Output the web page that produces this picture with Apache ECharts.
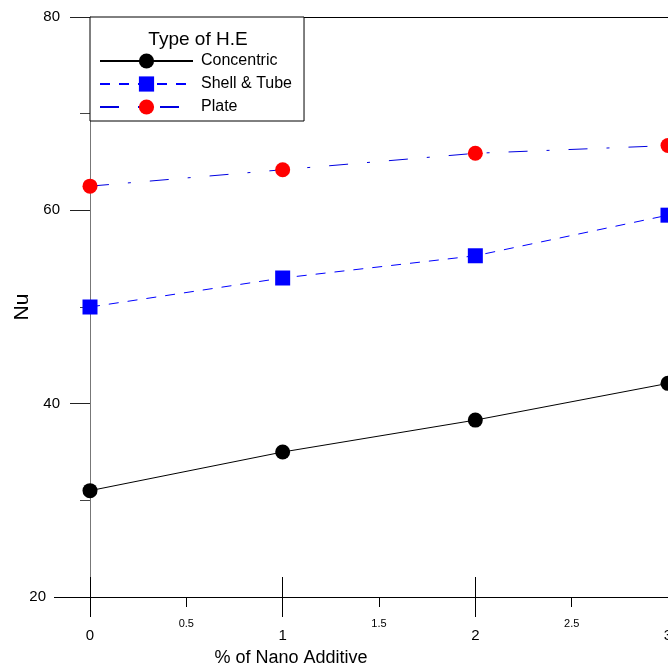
<!DOCTYPE html>
<html>
<head>
<meta charset="utf-8">
<script src="https://cdn.jsdelivr.net/npm/echarts@6/dist/echarts.min.js"></script>
<style>
  html, body { margin: 0; padding: 0; background: #fff; }
  #chart { width: 668px; height: 666px; }
</style>
</head>
<body>
<div id="chart"></div>
<script>
// % of nano additive
var xValues = [0, 1, 2, 3];
// Nu for each heat exchanger type
var concentric = [31, 35, 38.3, 42.1];
var shellTube = [50, 53, 55.3, 59.5];
var plate = [62.5, 64.2, 65.9, 66.7];

var FONT = 'Liberation Sans, Arial, sans-serif';

function pairs(ys) {
	return xValues.map(function (x, i) { return [x, ys[i]]; });
}

var chart = echarts.init(document.getElementById('chart'));

var hiddenAxis = {
	min: 0, max: 3, type: 'value',
	splitLine: { show: false }
};

chart.setOption({
	animation: false,
	backgroundColor: '#fff',
	textStyle: { fontFamily: FONT },
	grid: { left: 90, right: 0, top: 17, bottom: 69, containLabel: false, outerBoundsMode: 'none' },
	legend: {
		orient: 'vertical',
		left: 90, top: 17,
		padding: [36, 12, 6, 9],
		itemWidth: 93, itemHeight: 19, itemGap: 7,
		borderColor: '#000', borderWidth: 1,
		backgroundColor: '#fff',
		textStyle: { fontFamily: FONT, fontSize: 16, color: '#000', padding: [0, 0, 0, 3] },
		data: ['Concentric', 'Shell & Tube', 'Plate']
	},
	title: {
		text: 'Type of H.E',
		left: 193, top: 25, textAlign: 'center',
		textStyle: { fontFamily: FONT, fontSize: 19, fontWeight: 'normal', color: '#000' }
	},
	xAxis: [
		Object.assign({}, hiddenAxis, {
			interval: 1,
			name: '% of Nano Additive', nameLocation: 'middle', nameGap: 52,
			nameTextStyle: { fontFamily: FONT, fontSize: 18, color: '#000', padding: [0, 176, 0, 0] },
			axisLine: { show: true, onZero: false, lineStyle: { color: '#000', width: 1 } },
			axisTick: { show: true, length: 20, inside: false, lineStyle: { color: '#000' } },
			axisLabel: { margin: 31, fontSize: 15, color: '#000', fontFamily: FONT, showMaxLabel: true }
		}),
		Object.assign({}, hiddenAxis, {
			interval: 0.5, position: 'bottom',
			axisLine: { show: false },
			axisTick: { show: true, length: 10, lineStyle: { color: '#000' } },
			axisLabel: {
				margin: 21, fontSize: 11, color: '#000', fontFamily: FONT,
				formatter: function (v) { return v % 1 === 0 ? '' : String(v); }
			}
		}),
		Object.assign({}, hiddenAxis, {
			interval: 1, position: 'bottom',
			axisLine: { show: false },
			axisTick: { show: true, length: 20, inside: true, lineStyle: { color: '#000' } },
			axisLabel: { show: false }
		}),
		Object.assign({}, hiddenAxis, {
			interval: 1, position: 'top',
			axisLine: { show: true, lineStyle: { color: '#000', width: 1 } },
			axisTick: { show: false },
			axisLabel: { show: false }
		})
	],
	yAxis: [
		{
			type: 'value', min: 20, max: 80, interval: 20,
			name: 'Nu', nameLocation: 'middle', nameGap: 55,
			nameTextStyle: { fontFamily: FONT, fontSize: 21, color: '#000' },
			splitLine: { show: false },
			axisLine: { show: true, onZero: false, lineStyle: { color: '#777', width: 1 } },
			axisTick: { show: true, length: 20, customValues: [40, 60, 80], lineStyle: { color: '#222' } },
			minorTick: { show: true, splitNumber: 2, length: 10, lineStyle: { color: '#444' } },
			axisLabel: { margin: 30, fontSize: 15, color: '#000', fontFamily: FONT, customValues: [40, 60, 80] }
		},
		{
			type: 'value', min: 20, max: 80, interval: 20, position: 'left',
			splitLine: { show: false },
			axisLine: { show: false },
			axisTick: { show: true, length: 36, customValues: [20], lineStyle: { color: '#000' } },
			axisLabel: { margin: 44, fontSize: 15, color: '#000', fontFamily: FONT, customValues: [20] }
		}
	],
	series: [
		{
			name: 'Concentric', type: 'line', data: pairs(concentric),
			symbol: 'circle', symbolSize: 15,
			itemStyle: { color: '#000' },
			lineStyle: { color: '#000', width: 1 }
		},
		{
			name: 'Shell & Tube', type: 'line', data: pairs(shellTube),
			symbol: 'rect', symbolSize: 15,
			itemStyle: { color: '#0000ff' },
			lineStyle: { color: '#0000ff', width: 1, type: [10, 9] }
		},
		{
			name: 'Plate', type: 'line', data: pairs(plate),
			symbol: 'circle', symbolSize: 15,
			itemStyle: { color: '#ff0000' },
			lineStyle: { color: '#0000e0', width: 1, type: [19, 19, 3, 19] }
		}
	]
});
</script>
</body>
</html>
